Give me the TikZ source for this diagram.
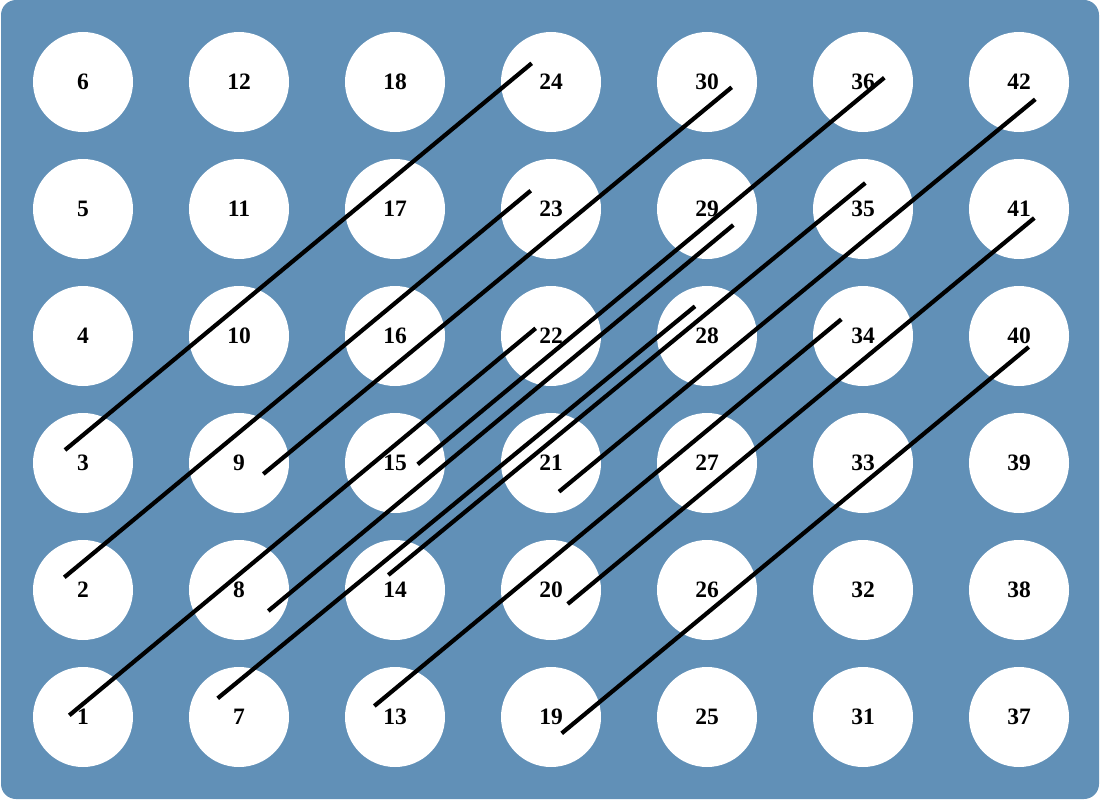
\documentclass[tikz,border=0pt]{standalone}
\usepackage{fontspec}
\setmainfont{Liberation Serif}
\definecolor{bgblue}{RGB}{97,144,183}
\begin{document}
\begin{tikzpicture}[x=1pt,y=-1pt,
  dot/.style={circle,fill=white,minimum size=100pt,inner sep=0pt,
    font=\bfseries\fontsize{23.5}{23.5}\selectfont},
  link/.style={line width=4.2pt,draw=black}]
\useasboundingbox (0,0) rectangle (1100,800);
\fill[bgblue,rounded corners=15pt] (1,0) rectangle (1099,799);
\foreach \i in {0,...,6}{
  \foreach \r in {0,...,5}{
    \pgfmathtruncatemacro\n{6*\i+6-\r}
    \node[dot] (c\n) at ({83+156*\i},{82+127*\r}) {\n};
  }
}
% line end points
\coordinate (s1) at (69.3,715.3);  \coordinate (e22) at (535.7,328.3);
\coordinate (s2) at (64.3,577.3);  \coordinate (e23) at (530.7,190.7);
\coordinate (s3) at (65,450);      \coordinate (e24) at (531.7,63.3);
\coordinate (s7) at (217.7,698.3); \coordinate (e28) at (695,306.3);
\coordinate (s8) at (268.3,611);   \coordinate (e29) at (733.3,225);
\coordinate (s9) at (263.3,474);   \coordinate (e30) at (731.7,87.3);
\coordinate (s13) at (374.3,706);  \coordinate (e34) at (841.3,319.3);
\coordinate (s14) at (388.3,575);  \coordinate (e35) at (865.3,183);
\coordinate (s15) at (417.7,464.3);\coordinate (e36) at (884.3,77.7);
\coordinate (s19) at (561.7,733.3);\coordinate (e40) at (1028.7,347);
\coordinate (s20) at (567.7,604);  \coordinate (e41) at (1034.3,218);
\coordinate (s21) at (559,491.7);  \coordinate (e42) at (1035.3,99.3);
\foreach \a/\b in {1/22,2/23,3/24,7/28,8/29,9/30,13/34,14/35,15/36,19/40,20/41,21/42}{
  \draw[link] (s\a) -- (e\b);
}
\end{tikzpicture}
\end{document}
